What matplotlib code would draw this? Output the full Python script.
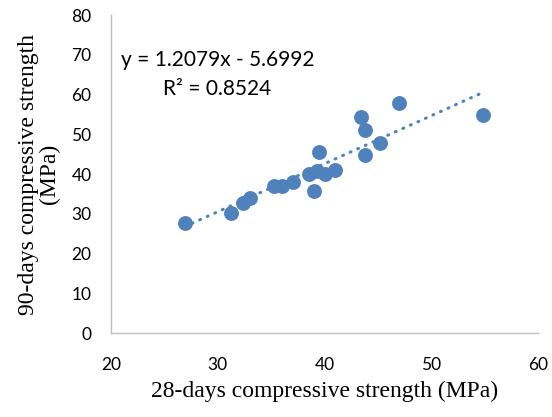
import numpy as np
import matplotlib
matplotlib.use('Agg')
import matplotlib.pyplot as plt

# 28-day vs 90-day compressive strength (MPa)
strength_28 = [26.9, 31.2, 32.4, 33.0, 35.3, 36.0, 37.0, 38.5, 39.3, 40.0,
               41.0, 39.0, 39.5, 43.4, 43.8, 43.8, 45.2, 47.0, 54.8]
strength_90 = [27.6, 30.1, 32.8, 33.9, 37.1, 37.1, 38.1, 40.0, 40.8, 40.0,
               41.0, 35.7, 45.5, 54.3, 51.1, 44.8, 47.9, 57.8, 54.8]

# linear trendline reported on the chart
slope = 1.2079
intercept = -5.6992
r_squared = 0.8524

x_ticks = [20, 30, 40, 50, 60]
y_ticks = [0, 10, 20, 30, 40, 50, 60, 70, 80]

tick_font = 'Lato'
label_font = 'Liberation Serif'
blue = '#4f81bd'

fig = plt.figure(figsize=(5.52, 4.17), dpi=100)
ax = fig.add_axes([0.201, 0.201, 0.774, 0.763])

ax.scatter(strength_28, strength_90, s=115, color=blue, zorder=3, linewidths=0)

# dotted trendline over the data range
x_fit = np.array([min(strength_28), max(strength_28)])
ax.plot(x_fit, slope * x_fit + intercept, color=blue, lw=2.2,
        linestyle=(0, (0.3, 2.4)), dash_capstyle='round', zorder=2)

ax.text(20.9, 68.7, f'y = {slope}x - {abs(intercept)}', fontsize=15,
        family=tick_font, va='center', ha='left')
ax.text(24.9, 61.4, f'R² = {r_squared}', fontsize=15,
        family=tick_font, va='center', ha='left')

ax.set_xlim(20, 60)
ax.set_ylim(0, 80)
ax.set_xticks(x_ticks)
ax.set_yticks(y_ticks)
ax.tick_params(length=0)
ax.tick_params(axis='x', pad=17)
ax.tick_params(axis='y', pad=14)
for lab in ax.get_xticklabels() + ax.get_yticklabels():
    lab.set_family(tick_font)
    lab.set_fontsize(12.5)

for side in ['top', 'right']:
    ax.spines[side].set_visible(False)
for side in ['left', 'bottom']:
    ax.spines[side].set_color('#bfbfbf')
    ax.spines[side].set_linewidth(1.0)

ax.set_xlabel('28-days compressive strength (MPa)', family=label_font,
              fontsize=17, labelpad=6)
ax.set_ylabel('90-days compressive strength\n(MPa)', family=label_font,
              fontsize=17, labelpad=8, linespacing=1.0)

fig.savefig('out.png', dpi=100)
